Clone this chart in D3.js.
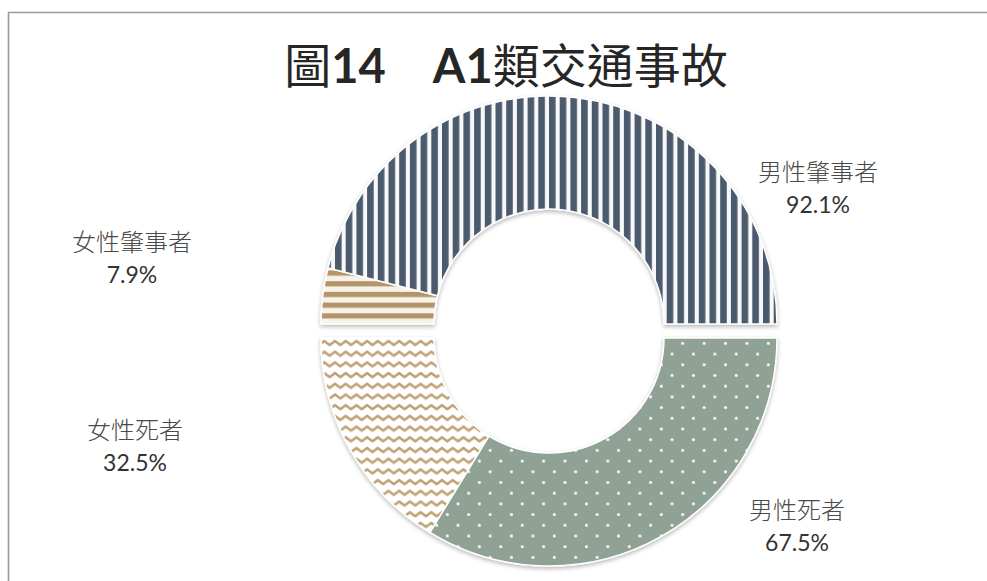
<!DOCTYPE html>
<html>
<head>
<meta charset="utf-8">
<script src="https://cdn.jsdelivr.net/npm/d3@7"></script>
<style>
  html, body { margin: 0; padding: 0; background: #fff; }
  svg { display: block; }
</style>
</head>
<body>
<svg id="chart" width="987" height="581"></svg>
<script>
// ---- data ----
const titleParts = ["圖", "14", "\u3000", "A1", "類交通事故"];
const culpritCategories = ["女性肇事者", "男性肇事者"];
const culpritValues = [7.9, 92.1];
const deathCategories = ["男性死者", "女性死者"];
const deathValues = [67.5, 32.5];

// ---- layout ----
const W = 987, H = 581;
const cx = 549, cy = 331;
const rOuter = 228, rInner = 115;
const explode = 7;

const svg = d3.select("#chart");
const defs = svg.append("defs");

// patterns
const pv = defs.append("pattern").attr("id", "pVert").attr("patternUnits", "userSpaceOnUse")
  .attr("width", 10.7).attr("height", 10.7);
pv.append("rect").attr("width", 10.7).attr("height", 10.7).attr("fill", "#f7f8f9");
pv.append("rect").attr("x", 0).attr("width", 6.6).attr("height", 10.7).attr("fill", "#4b5a6c");

const ph = defs.append("pattern").attr("id", "pHoriz").attr("patternUnits", "userSpaceOnUse")
  .attr("width", 10.7).attr("height", 10.7);
ph.append("rect").attr("width", 10.7).attr("height", 10.7).attr("fill", "#f7f2ea");
ph.append("rect").attr("y", 0).attr("width", 10.7).attr("height", 5.2).attr("fill", "#b4956a");

const pd = defs.append("pattern").attr("id", "pDots").attr("patternUnits", "userSpaceOnUse")
  .attr("width", 21.4).attr("height", 21.4);
pd.append("rect").attr("width", 21.4).attr("height", 21.4).attr("fill", "#8fa295");
pd.append("circle").attr("cx", 5.35).attr("cy", 5.35).attr("r", 1.5).attr("fill", "#ffffff");
pd.append("circle").attr("cx", 16.05).attr("cy", 16.05).attr("r", 1.5).attr("fill", "#ffffff");

const pw = defs.append("pattern").attr("id", "pWave").attr("patternUnits", "userSpaceOnUse")
  .attr("width", 10.7).attr("height", 10.7);
pw.append("rect").attr("width", 10.7).attr("height", 10.7).attr("fill", "#ffffff");
pw.append("path").attr("d", "M-5.35,7 L0,3 L5.35,7 L10.7,3 L16.05,7")
  .attr("fill", "none").attr("stroke", "#c0a174").attr("stroke-width", 2.5)
  .attr("stroke-linejoin", "round");

// shadow
const f = defs.append("filter").attr("id", "shadow").attr("x", "-20%").attr("y", "-20%")
  .attr("width", "140%").attr("height", "140%");
f.append("feDropShadow").attr("dx", 0).attr("dy", 2).attr("stdDeviation", 2.2)
  .attr("flood-color", "#000").attr("flood-opacity", 0.28);

// border
svg.append("path")
  .attr("d", `M8.5,${H} L8.5,12.5 L${W},12.5`)
  .attr("fill", "none").attr("stroke", "#9a9a9a").attr("stroke-width", 1.6);

// title
const title = svg.append("text")
  .attr("x", 506).attr("y", 83)
  .attr("text-anchor", "middle")
  .attr("font-size", 47)
  .attr("fill", "#262626");
titleParts.forEach((t, i) => {
  const latin = /^[A-Za-z0-9]+$/.test(t);
  title.append("tspan")
    .attr("font-family", latin ? "Lato, 'Liberation Sans', sans-serif" : "'Noto Sans CJK TC', sans-serif")
    .attr("font-weight", latin ? 700 : 400)
    .text(t);
});

const arc = d3.arc().innerRadius(rInner).outerRadius(rOuter);

const topFills = ["url(#pHoriz)", "url(#pVert)"];
const botFills = ["url(#pDots)", "url(#pWave)"];

const topPie = d3.pie().sort(null).startAngle(-Math.PI / 2).endAngle(Math.PI / 2);
const botPie = d3.pie().sort(null).startAngle(Math.PI / 2).endAngle(3 * Math.PI / 2);

const gTop = svg.append("g").attr("transform", `translate(${cx},${cy - explode})`).attr("filter", "url(#shadow)");
gTop.selectAll("path").data(topPie(culpritValues)).join("path")
  .attr("d", arc)
  .attr("fill", (d, i) => topFills[i])
  .attr("stroke", "#ffffff").attr("stroke-width", 1.5);

const gBot = svg.append("g").attr("transform", `translate(${cx},${cy + explode})`).attr("filter", "url(#shadow)");
gBot.selectAll("path").data(botPie(deathValues)).join("path")
  .attr("d", arc)
  .attr("fill", (d, i) => botFills[i])
  .attr("stroke", "#ffffff").attr("stroke-width", 1.5);

// labels (positions are layout: Excel "best fit" placement)
const labelPos = {
  "女性肇事者": [132, 251],
  "男性肇事者": [818, 181],
  "男性死者": [797, 519],
  "女性死者": [135, 439]
};
const fmt = v => v.toFixed(1) + "%";
const labels = culpritCategories.map((c, i) => ({ name: c, value: culpritValues[i] }))
  .concat(deathCategories.map((c, i) => ({ name: c, value: deathValues[i] })));

const lg = svg.append("g");
labels.forEach(l => {
  const [x, y] = labelPos[l.name];
  lg.append("text")
    .attr("x", x).attr("y", y)
    .attr("text-anchor", "middle")
    .attr("font-family", "'Noto Sans CJK TC', sans-serif")
    .attr("font-size", 24)
    .attr("font-weight", 300)
    .attr("fill", "#4a4a4a")
    .text(l.name);
  lg.append("text")
    .attr("x", x).attr("y", y + 32)
    .attr("text-anchor", "middle")
    .attr("font-family", "Lato, 'Open Sans', sans-serif")
    .attr("font-size", 23)
    .attr("fill", "#333333")
    .text(fmt(l.value));
});
</script>
</body>
</html>
